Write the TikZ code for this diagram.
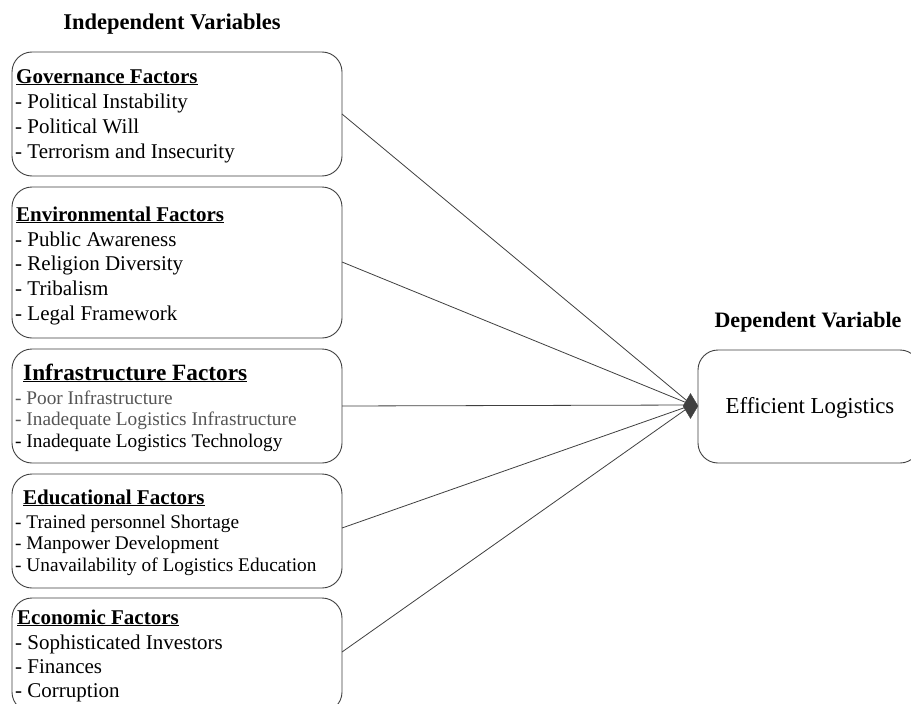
\documentclass[tikz,border=0pt]{standalone}
\usepackage{fontspec}
\setmainfont{Liberation Serif}
\usetikzlibrary{shapes.geometric}
\definecolor{edge}{HTML}{404040}
\definecolor{graytext}{HTML}{555555}
\tikzset{
  box/.style={draw=edge, line width=0.9pt, rounded corners=20pt},
  head/.style={anchor=base west, inner sep=0pt, font=\fontsize{21}{24}\selectfont\bfseries},
  item/.style={anchor=base west, inner sep=0pt, font=\fontsize{21}{24}\selectfont},
  smallitem/.style={anchor=base west, inner sep=0pt, font=\fontsize{19.3}{22}\selectfont},
  title/.style={anchor=base, inner sep=0pt, font=\fontsize{22.5}{26}\selectfont\bfseries},
  link/.style={draw=edge, line width=0.8pt},
}
\newcommand{\ul}[1]{\underline{#1}}
\begin{document}
\begin{tikzpicture}[x=1pt,y=-1pt]
\useasboundingbox (0,0) rectangle (911,704);
\clip (0,0) rectangle (911,704);
\fill[white] (0,0) rectangle (911,704);

% titles
\node[title] (tind) at (172,29) {Independent Variables};
\node[title, font=\fontsize{22}{26}\selectfont\bfseries] (tdep) at (808,327) {Dependent Variable};

% Governance
\draw[box] (12,52) rectangle (342,176);
\coordinate (govE) at (342,114);
\node[head] (g0) at (16,83) {\ul{Governance Factors}};
\node[item] (g1) at (15,108) {- Political Instability};
\node[item] (g2) at (15,133) {- Political Will};
\node[item] (g3) at (15,158) {- Terrorism and Insecurity};

% Environmental
\draw[box] (12,187) rectangle (342,338);
\coordinate (envE) at (342,262);
\node[head] (e0) at (16,221) {\ul{Environmental Factors}};
\node[item] (e1) at (15,246) {- Public Awareness};
\node[item] (e2) at (15,270) {- Religion Diversity};
\node[item] (e3) at (15,295) {- Tribalism};
\node[item] (e4) at (15,320) {- Legal Framework};

% Infrastructure
\draw[box] (12,349) rectangle (342,463);
\coordinate (infE) at (342,406);
\node[head, font=\fontsize{23.3}{26}\selectfont\bfseries] (i0) at (23,380) {\ul{Infrastructure Factors}};
\node[smallitem, text=graytext] (i1) at (15,404) {- Poor Infrastructure};
\node[smallitem, text=graytext] (i2) at (15,425) {- Inadequate Logistics Infrastructure};
\node[smallitem] (i3) at (15,447) {- Inadequate Logistics Technology};

% Educational
\draw[box] (12,474) rectangle (342,588);
\coordinate (eduE) at (342,528);
\node[head, font=\fontsize{21}{24}\selectfont\bfseries] (d0) at (23,504) {\ul{Educational Factors}};
\node[smallitem] (d1) at (15,528) {- Trained personnel Shortage};
\node[smallitem] (d2) at (15,549) {- Manpower Development};
\node[smallitem] (d3) at (15,571) {- Unavailability of Logistics Education};

% Economic
\draw[box] (12,598) rectangle (342,712);
\coordinate (ecoE) at (342,652);
\node[head] (c0) at (17,624) {\ul{Economic Factors}};
\node[item] (c1) at (15,649) {- Sophisticated Investors};
\node[item] (c2) at (15,673) {- Finances};
\node[item] (c3) at (15,697) {- Corruption};

% Dependent
\draw[box] (698,350) rectangle (920,463);
\node[inner sep=0pt, anchor=base, font=\fontsize{22.8}{26}\selectfont] (eff) at (810,413) {Efficient Logistics};
\coordinate (tip) at (692,405);

% connectors
\draw[link] (govE) -- (tip);
\draw[link] (envE) -- (tip);
\draw[link] (infE) -- (tip);
\draw[link] (eduE) -- (tip);
\draw[link] (ecoE) -- (tip);

\node[diamond, fill=edge, draw=edge, inner sep=0pt, minimum width=15pt, minimum height=25pt] (dia) at (690.5,406) {};
\end{tikzpicture}
\end{document}
